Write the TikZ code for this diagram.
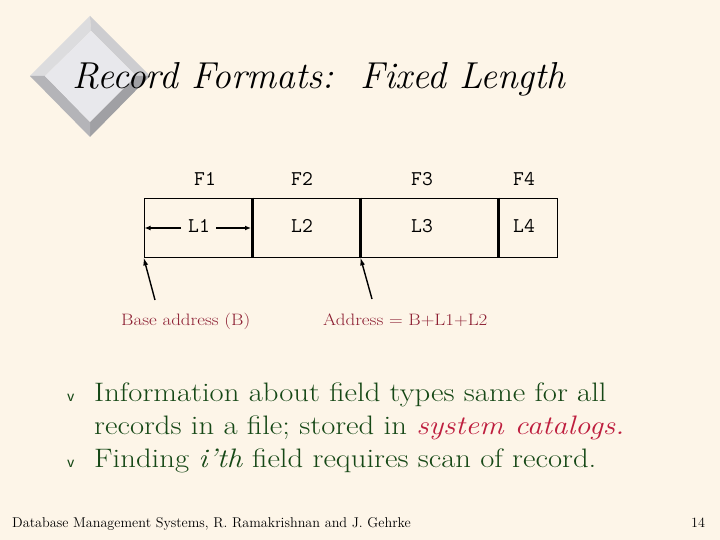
\documentclass[tikz,border=0pt]{standalone}
\usepackage{fontspec}
\newfontfamily\wideserif{Latin Modern Roman}[FakeStretch=1.15]
\usetikzlibrary{arrows.meta}
\definecolor{bg}{RGB}{253,245,232}
\definecolor{txtgreen}{RGB}{22,72,22}
\definecolor{catred}{RGB}{190,30,62}
\definecolor{lblred}{RGB}{140,30,50}
\definecolor{dmface}{RGB}{232,232,236}
\definecolor{dmtl}{RGB}{220,220,222}
\definecolor{dmtr}{RGB}{205,205,208}
\definecolor{dmbr}{RGB}{160,160,164}
\definecolor{dmbl}{RGB}{180,180,184}
\tikzset{
  cell/.style={draw=black, line width=0.8pt, minimum height=59pt, inner sep=0pt},
  divider/.style={line width=2.4pt},
  mono/.style={font=\fontsize{21}{24}\selectfont\ttfamily, inner sep=0pt, anchor=base},
  lbl/.style={font=\fontsize{16.5}{18}\selectfont\wideserif, text=lblred, inner sep=0pt, anchor=base west},
  bodytxt/.style={font=\fontsize{26.7}{32}\selectfont\wideserif, text=txtgreen, inner sep=0pt, anchor=base west},
  bul/.style={font=\fontsize{17}{20}\selectfont\sffamily, text=txtgreen, inner sep=0pt, anchor=base west},
  foot/.style={font=\fontsize{14.2}{17}\selectfont, inner sep=0pt, anchor=base west},
  lenarrow/.style={line width=1.8pt, -{Latex[length=6pt,width=5pt]}},
  ptr/.style={line width=1.4pt, -{Latex[length=8pt,width=5pt]}}
}
\begin{document}
\begin{tikzpicture}[x=1pt,y=-1pt]
\useasboundingbox[fill=bg] (0,0) rectangle (720,540);
% diamond ornament
\fill[dmtl] (90,16) -- (30,76) -- (45,76) -- (91,31) -- cycle;
\fill[dmtr] (90,16) -- (150,76) -- (136,76) -- (91,31) -- cycle;
\fill[dmbr] (150,76) -- (90,137) -- (90,122) -- (136,76) -- cycle;
\fill[dmbl] (30,76) -- (90,137) -- (90,122) -- (45,76) -- cycle;
\fill[dmface] (91,31) -- (136,76) -- (90,122) -- (45,76) -- cycle;
% title
\node[font=\fontsize{37.5}{45}\selectfont\itshape, inner sep=0pt, anchor=base west] (title) at (72,89) {Record Formats:\ \ Fixed Length};
% record cells
\node[cell, minimum width=108pt] (c1) at (198,227.5) {};
\node[cell, minimum width=108pt] (c2) at (306,227.5) {};
\node[cell, minimum width=138pt] (c3) at (429,227.5) {};
\node[cell, minimum width=59pt] (c4) at (527.5,227.5) {};
\draw[divider] (c1.north east) -- (c1.south east);
\draw[divider] (c2.north east) -- (c2.south east);
\draw[divider] (c3.north east) -- (c3.south east);
% field names
\node[mono] (f1) at (205,186) {F1};
\node[mono] (f2) at (302,186) {F2};
\node[mono] (f3) at (422,186) {F3};
\node[mono] (f4) at (524,186) {F4};
% lengths
\node[mono] (l1) at (199,233) {L1};
\node[mono] (l2) at (302,233) {L2};
\node[mono] (l3) at (422,233) {L3};
\node[mono] (l4) at (524,233) {L4};
\coordinate (l1w) at (181,228);
\coordinate (l1e) at (216,228);
\coordinate (c1w) at (144.5,228);
\coordinate (c1e) at (251,228);
\draw[lenarrow] (l1w) -- (c1w);
\draw[lenarrow] (l1e) -- (c1e);
% address labels and pointers
\node[lbl] (base) at (121,325) {Base address (B)};
\node[lbl] (addr) at (323,325) {Address = B+L1+L2};
\coordinate (p1) at (155,300);
\coordinate (p2) at (372,299);
\draw[ptr] (p1) -- (c1.south west);
\draw[ptr] (p2) -- (c2.south east);
% bullets
\node[bul] (b1) at (67,401) {v};
\node[bul] (b2) at (67,467) {v};
\node[bodytxt] (t1) at (94,401) {Information about field types same for all};
\node[bodytxt] (t2) at (94,434) {records in a file; stored in \textcolor{catred}{\itshape system catalogs.}};
\node[bodytxt] (t3) at (94,467) {Finding \textit{i’th} field requires scan of record.};
% footer
\node[foot] (ft) at (12,527) {Database Management Systems, R. Ramakrishnan and J. Gehrke};
\node[foot] (pg) at (691,527) {14};
\end{tikzpicture}
\end{document}
